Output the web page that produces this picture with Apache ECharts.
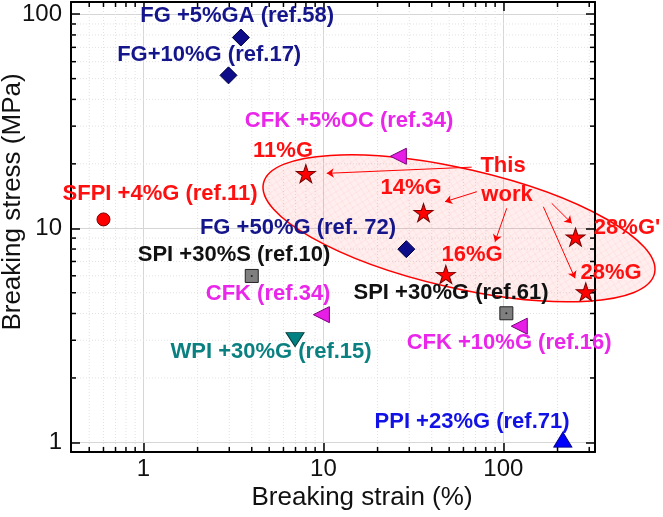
<!DOCTYPE html>
<html><head><meta charset="utf-8">
<script src="https://cdn.jsdelivr.net/npm/echarts@6/dist/echarts.min.js"></script>
<style>html,body{margin:0;padding:0;background:#fff}#c{width:663px;height:517px}</style>
</head><body><div id="c"></div>
<script>
const FONT = '"Liberation Sans", Arial, sans-serif';

// ---------------- data (breaking strain %, breaking stress MPa) ----------------
const thisWorkNames  = ['11%G', '14%G', '16%G', "28%G'", '28%G'];
const thisWorkStrain = [7.99, 36.0, 47.9, 251.8, 287];
const thisWorkStress = [17.8, 11.7, 6.02, 9.0, 4.99];

const fgNames  = ['FG +5%GA (ref.58)', 'FG+10%G (ref.17)', 'FG +50%G (ref. 72)'];
const fgStrain = [3.48, 2.97, 28.9];
const fgStress = [77.8, 51.8, 7.99];

const sfpiNames  = ['SFPI +4%G (ref.11)'];
const sfpiStrain = [0.6];
const sfpiStress = [11.0];

const cfkNames  = ['CFK +5%OC (ref.34)', 'CFK (ref.34)', 'CFK +10%G (ref.16)'];
const cfkStrain = [26.1, 9.75, 122.6];
const cfkStress = [21.7, 3.95, 3.49];

const spiNames  = ['SPI +30%S (ref.10)', 'SPI +30%G (ref.61)'];
const spiStrain = [4.0, 103.9];
const spiStress = [5.99, 4.01];

const wpiNames  = ['WPI +30%G (ref.15)'];
const wpiStrain = [6.96];
const wpiStress = [3.02];

const ppiNames  = ['PPI +23%G (ref.71)'];
const ppiStrain = [214];
const ppiStress = [1.03];

// axis ranges and tick values
const xRange = [0.396, 323];
const yRange = [0.902, 114];
const xMinorTicks = [0.5, 0.6, 0.7, 0.8, 0.9, 2, 3, 4, 5, 6, 7, 8, 9, 20, 30, 40, 50, 60, 70, 80, 90, 200, 300];
const yMinorTicks = [2, 3, 4, 5, 6, 7, 8, 9, 20, 30, 40, 50, 60, 70, 80, 90];

// annotations (data-space anchors)
const arrows = [ // [fromStrain, fromStress, toStrain, toStress]
  [66.7, 19.3, 10.44, 18.06],
  [71.2, 14.82, 47.4, 13.31],
  [104.4, 12.4, 89.9, 8.66],
  [185.7, 13.08, 239.9, 10.55],
  [166.8, 12.61, 250.2, 5.84]
];
const labelText = ['FG +5%GA (ref.58)', 'FG+10%G (ref.17)', 'CFK +5%OC (ref.34)', '11%G', 'SFPI +4%G (ref.11)',
  '14%G', 'This', 'work', 'FG +50%G (ref. 72)', "28%G'", 'SPI +30%S (ref.10)', '16%G', '28%G', 'CFK (ref.34)',
  'SPI +30%G (ref.61)', 'WPI +30%G (ref.15)', 'CFK +10%G (ref.16)', 'PPI +23%G (ref.71)'];
const labelX = [3.32, 2.32, 13.89, 5.97, 1.238, 30.7, 99.6, 104.8, 7.23, 486.7, 3.19, 67.0, 396.7, 4.93, 51.2, 5.12, 107.6, 67.0];
const labelY = [97.9, 64.4, 31.7, 22.95, 14.45, 15.42, 19.53, 14.3, 10.03, 10.03, 7.51, 7.51, 6.18, 4.94, 4.99, 2.647, 2.916, 1.248];
const labelGroup = ['fg', 'fg', 'cfk', 'red', 'red', 'red', 'red', 'red', 'fg', 'red', 'spi', 'red', 'red', 'cfk', 'spi', 'wpi', 'cfk', 'ppi'];
const ellipseCenter = [56.7, 10.0];

// ---------------- styles ----------------
const colors = { red: '#ff1010', fg: '#16168c', cfk: '#e926e9', spi: '#111111', wpi: '#0b8080', ppi: '#1212e6' };

function starPath() {
  const pts = [];
  for (let i = 0; i < 10; i++) {
    const r = i % 2 === 0 ? 1 : 0.382;
    const a = -Math.PI / 2 + i * Math.PI / 5;
    pts.push((r * Math.cos(a)).toFixed(4) + ' ' + (r * Math.sin(a)).toFixed(4));
  }
  return 'path://M' + pts.join(' L') + ' Z';
}
const zip = (xs, ys) => xs.map((x, i) => [x, ys[i]]);

function minorGridItem(params, api) {
  const cs = params.coordSys;
  const p = api.coord([api.value(0), api.value(1)]);
  const style = { stroke: '#e2e2e2', lineWidth: 1, lineDash: [1, 2] };
  if (api.value(2) === 0) return { type: 'line', shape: { x1: p[0], y1: cs.y, x2: p[0], y2: cs.y + cs.height }, style };
  return { type: 'line', shape: { x1: cs.x, y1: p[1], x2: cs.x + cs.width, y2: p[1] }, style };
}
function minorTickItem(params, api) {
  const cs = params.coordSys;
  const p = api.coord([api.value(0), api.value(1)]);
  const L = 5, style = { stroke: '#000', lineWidth: 1.5 };
  if (api.value(2) === 0) {
    return { type: 'group', children: [
      { type: 'line', shape: { x1: p[0], y1: cs.y + cs.height, x2: p[0], y2: cs.y + cs.height - L }, style },
      { type: 'line', shape: { x1: p[0], y1: cs.y, x2: p[0], y2: cs.y + L }, style }
    ]};
  }
  return { type: 'group', children: [
    { type: 'line', shape: { x1: cs.x, y1: p[1], x2: cs.x + L, y2: p[1] }, style },
    { type: 'line', shape: { x1: cs.x + cs.width, y1: p[1], x2: cs.x + cs.width - L, y2: p[1] }, style }
  ]};
}
const minorData = xMinorTicks.map(v => [v, 1, 0]).concat(yMinorTicks.map(v => [1, v, 1]));

const decadeLabel = v => {
  const l = Math.log10(v);
  return Math.abs(l - Math.round(l)) < 1e-6 ? String(Math.round(v * 1000) / 1000) : '';
};
const axisLineStyle = { color: '#000', width: 2 };
const tickStyle = { color: '#000', width: 1.5 };

const chart = echarts.init(document.getElementById('c'), null, { renderer: 'canvas' });
const option = {
  animation: false,
  backgroundColor: '#fff',
  grid: { left: 71, right: 68, top: 2, bottom: 65, containLabel: false, outerBoundsMode: 'none' },
  xAxis: [
    {
      type: 'log', logBase: 10, min: xRange[0], max: xRange[1], position: 'bottom',
      name: 'Breaking strain (%)', nameLocation: 'middle', nameGap: 33, nameMoveOverlap: false,
      nameTextStyle: { fontSize: 26, fontFamily: FONT, color: '#111', padding: [0, 0, 0, 58] },
      axisLine: { show: true, lineStyle: axisLineStyle },
      axisTick: { show: true, inside: true, length: 9, lineStyle: tickStyle },
      axisLabel: { show: true, margin: 5, fontSize: 24, fontFamily: FONT, color: '#111', formatter: decadeLabel, showMinLabel: false, showMaxLabel: false },
      splitLine: { show: true, lineStyle: { color: '#d6d6d6', width: 1 } },
      minorTick: { show: false }, minorSplitLine: { show: false }
    },
    {
      type: 'log', logBase: 10, min: xRange[0], max: xRange[1], position: 'top', z: 3,
      axisLine: { show: true, lineStyle: axisLineStyle },
      axisTick: { show: true, inside: true, length: 9, lineStyle: tickStyle },
      axisLabel: { show: false }, splitLine: { show: false }
    }
  ],
  yAxis: [
    {
      type: 'log', logBase: 10, min: yRange[0], max: yRange[1], position: 'left',
      name: 'Breaking stress (MPa)', nameLocation: 'middle', nameGap: 45, nameMoveOverlap: false,
      nameTextStyle: { fontSize: 26, fontFamily: FONT, color: '#111', padding: [0, 0, 0, 50] },
      axisLine: { show: true, lineStyle: axisLineStyle },
      axisTick: { show: true, inside: true, length: 9, lineStyle: tickStyle },
      axisLabel: { show: true, margin: 9, fontSize: 24, fontFamily: FONT, color: '#111', formatter: decadeLabel, showMinLabel: false, showMaxLabel: false },
      splitLine: { show: true, lineStyle: { color: '#d6d6d6', width: 1 } }
    },
    {
      type: 'log', logBase: 10, min: yRange[0], max: yRange[1], position: 'right', z: 3,
      axisLine: { show: true, lineStyle: axisLineStyle },
      axisTick: { show: true, inside: true, length: 9, lineStyle: tickStyle },
      axisLabel: { show: false }, splitLine: { show: false }
    }
  ],
  series: [
    { type: 'custom', name: 'minorGrid', z: 1, silent: true, renderItem: minorGridItem, data: minorData },
    { type: 'custom', name: 'minorTicks', z: 3, silent: true, renderItem: minorTickItem, data: minorData },
    {
      type: 'scatter', name: 'This work', z: 5, symbol: starPath(), symbolSize: [19, 18], symbolOffset: [0, -1],
      itemStyle: { color: '#ff0000', borderColor: '#7a0000', borderWidth: 1, opacity: 1 },
      data: zip(thisWorkStrain, thisWorkStress),
      markLine: {
        silent: true, symbol: ['none', 'arrow'], symbolSize: 7, animation: false,
        lineStyle: { color: '#ff0000', width: 1, type: 'solid' }, label: { show: false },
        emphasis: { disabled: true },
        data: arrows.map(a => [{ coord: [a[0], a[1]] }, { coord: [a[2], a[3]] }])
      }
    },
    {
      type: 'scatter', name: 'FG', z: 5, symbol: 'diamond', symbolSize: [17, 17],
      itemStyle: { color: '#0d0d8a', borderColor: '#000040', borderWidth: 1, opacity: 1 },
      data: zip(fgStrain, fgStress)
    },
    {
      type: 'scatter', name: 'SFPI', z: 5, symbol: 'circle', symbolSize: 13,
      itemStyle: { color: '#ff0000', borderColor: '#800000', borderWidth: 1, opacity: 1 },
      data: zip(sfpiStrain, sfpiStress)
    },
    {
      type: 'scatter', name: 'CFK', z: 5, symbol: 'triangle', symbolRotate: 90, symbolSize: [16, 16],
      itemStyle: { color: '#e61ee6', borderColor: '#7a007a', borderWidth: 1, opacity: 1 },
      data: zip(cfkStrain, cfkStress)
    },
    {
      type: 'scatter', name: 'SPI', z: 5, symbol: 'rect', symbolSize: 13,
      itemStyle: { color: '#7f7f7f', borderColor: '#202020', borderWidth: 1, opacity: 1 },
      data: zip(spiStrain, spiStress)
    },
    {
      type: 'scatter', name: 'SPI center', z: 6, symbol: 'circle', symbolSize: 2, silent: true,
      itemStyle: { color: '#222', opacity: 1 },
      data: zip(spiStrain, spiStress)
    },
    {
      type: 'scatter', name: 'WPI', z: 5, symbol: 'triangle', symbolRotate: 180, symbolSize: [18, 14],
      itemStyle: { color: '#008080', borderColor: '#003c3c', borderWidth: 1, opacity: 1 },
      data: zip(wpiStrain, wpiStress)
    },
    {
      type: 'scatter', name: 'PPI', z: 5, symbol: 'triangle', symbolSize: [18, 15],
      itemStyle: { color: '#0000ff', borderColor: '#000080', borderWidth: 1, opacity: 1 },
      data: zip(ppiStrain, ppiStress)
    }
  ]
};
chart.setOption(option);

// hatch pattern for the "This work" ellipse
const pc = document.createElement('canvas');
pc.width = 8; pc.height = 8;
const pctx = pc.getContext('2d');
pctx.fillStyle = 'rgba(255,40,40,0.08)';
pctx.fillRect(0, 0, 8, 8);
pctx.strokeStyle = 'rgba(255,60,60,0.07)';
pctx.lineWidth = 1;
pctx.beginPath();
pctx.moveTo(0, 0); pctx.lineTo(8, 8);
pctx.moveTo(8, 0); pctx.lineTo(0, 8);
pctx.stroke();

const toPx = (x, y) => chart.convertToPixel({ xAxisIndex: 0, yAxisIndex: 0 }, [x, y]);
const graphics = [];
const ec = toPx(ellipseCenter[0], ellipseCenter[1]);
graphics.push({
  type: 'ellipse', x: ec[0], y: ec[1], rotation: -13 * Math.PI / 180, z: 2, silent: true,
  shape: { cx: 0, cy: 0, rx: 200.7, ry: 59.5 },
  style: { fill: { image: pc, repeat: 'repeat' }, stroke: '#ff0000', lineWidth: 1.5 }
});
labelText.forEach((t, i) => {
  const p = toPx(labelX[i], labelY[i]);
  graphics.push({
    type: 'text', x: p[0], y: p[1], z: 10, silent: true,
    style: {
      text: t, fill: colors[labelGroup[i]], font: 'bold 22px ' + FONT,
      align: 'center', verticalAlign: 'middle', textAlign: 'center', textVerticalAlign: 'middle'
    }
  });
});
chart.setOption({ graphic: graphics });
</script>
</body></html>
